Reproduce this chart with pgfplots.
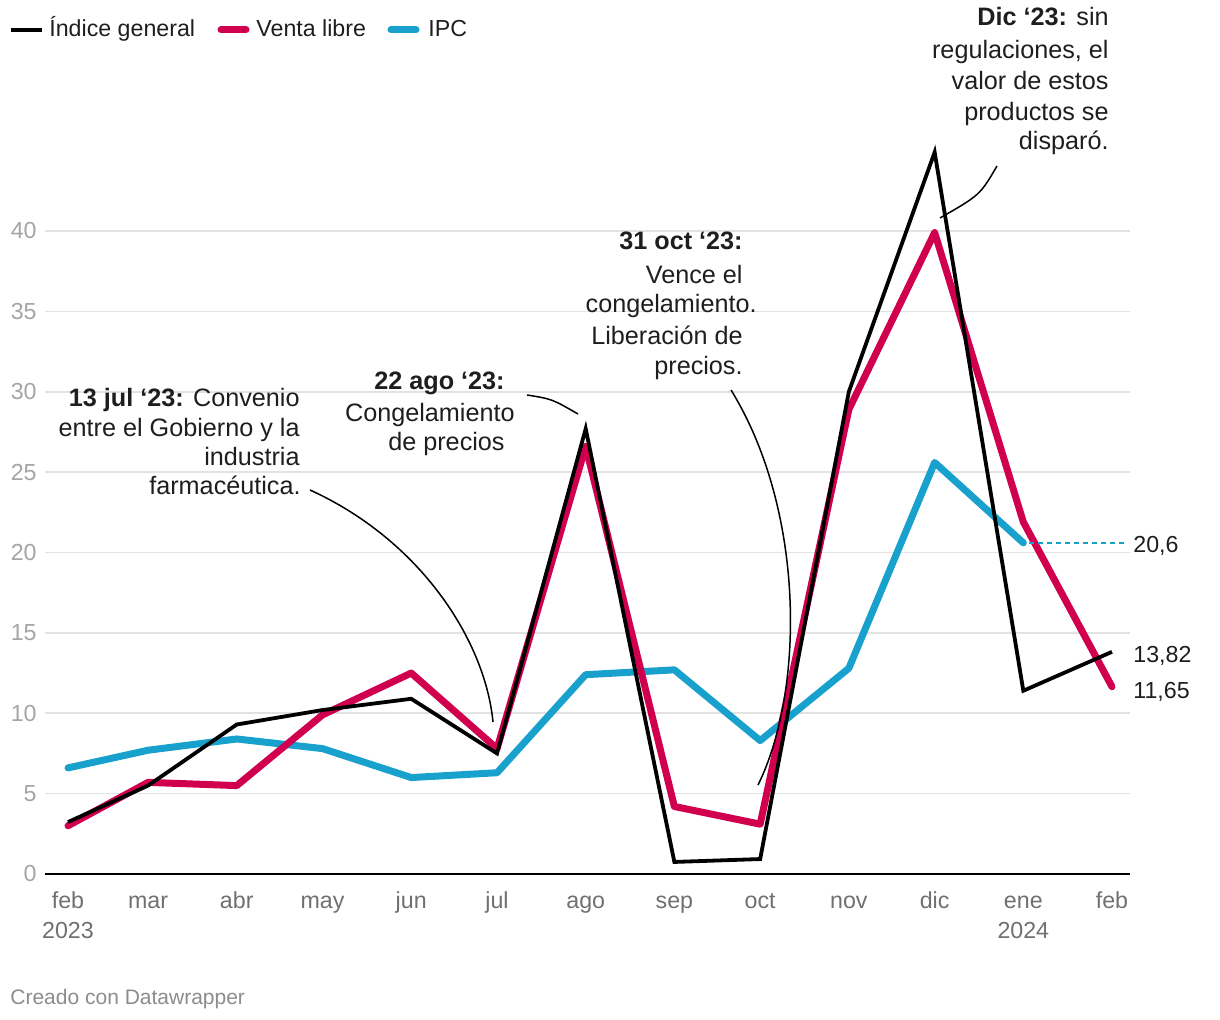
\documentclass[border=0pt]{standalone}
\usepackage{fontspec}
\setmainfont{Liberation Sans}
\usepackage{pgfplots}
\pgfplotsset{compat=1.18}
\definecolor{rojo}{RGB}{208,0,79}
\definecolor{azul}{RGB}{24,161,205}
\definecolor{gridc}{RGB}{226,226,226}
\definecolor{ylab}{RGB}{165,165,165}
\definecolor{xlab}{RGB}{112,112,112}
\definecolor{txt}{RGB}{30,30,30}
\definecolor{foot}{RGB}{140,140,140}
\newcommand{\tfont}{\fontsize{11.6}{15}\selectfont}
\newcommand{\afont}{\fontsize{12.6}{15.5}\selectfont}
\begin{document}
\begin{tikzpicture}
\useasboundingbox (0pt,0pt) rectangle (610pt,-510pt);
\begin{axis}[at={(22.5pt,-437pt)}, anchor=south west, scale only axis,
  width=542.5pt, height=321.5pt,
  xmin=-8.04, xmax=371.3, ymin=0, ymax=40, clip=false,
  axis line style={draw=none}, major tick length=0pt,
  ymajorgrids, grid style={gridc, line width=0.8pt},
  ytick={0,5,...,40},
  xtick={0,28,59,89,120,150,181,212,242,273,303,334,365},
  xticklabels={{\strut feb\\2023},{\strut mar},{\strut abr},{\strut may},{\strut jun},{\strut jul},{\strut ago},{\strut sep},{\strut oct},{\strut nov},{\strut dic},{\strut ene\\2024},{\strut feb}},
  xticklabel style={align=center, anchor=north, inner sep=0pt, yshift=-6.5pt, font=\tfont, text=xlab},
  yticklabel style={anchor=east, inner sep=0pt, xshift=-4pt, font=\tfont, text=ylab},
  /pgf/number format/assume math mode=true,
]
\addplot[azul, line width=3.5pt, line join=round, line cap=round] coordinates {
(0,6.6)(28,7.7)(59,8.4)(89,7.8)(120,6.0)(150,6.3)(181,12.4)(212,12.7)(242,8.3)(273,12.8)(303,25.6)(334,20.6)};
\addplot[rojo, line width=3.5pt, line join=round, line cap=round] coordinates {
(0,3.0)(28,5.7)(59,5.5)(89,9.9)(120,12.5)(150,7.8)(181,26.6)(212,4.2)(242,3.1)(273,28.9)(303,39.9)(334,21.9)(365,11.65)};
\addplot[black, line width=1.9pt, line join=miter] coordinates {
(0,3.23)(28,5.5)(59,9.3)(89,10.2)(120,10.9)(150,7.5)(181,27.7)(212,0.75)(242,0.93)(273,30.0)(303,44.9)(334,11.4)(365,13.82)};
\draw[black, line width=1.3pt] (axis cs:-8.04,0) -- (axis cs:371.3,0);
\draw[azul, line width=0.8pt, dash pattern=on 2.5pt off 2pt] (axis cs:336,20.6) -- (axis cs:369.5,20.6);
\end{axis}
\begin{scope}[x=0.5pt,y=-0.5pt]
% legend
\draw[black, line width=1.6pt] (11,30) -- (42,30);
\node[anchor=base west, inner sep=0pt, font=\tfont, text=txt] at (49,37) {Índice general};
\draw[rojo, line width=3.5pt, line cap=round] (221,30) -- (246,30);
\node[anchor=base west, inner sep=0pt, font=\tfont, text=txt] at (256,37) {Venta libre};
\draw[azul, line width=3.5pt, line cap=round] (391,30) -- (416,30);
\node[anchor=base west, inner sep=0pt, font=\tfont, text=txt] at (428,37) {IPC};
% end labels
\node[anchor=base west, inner sep=0pt, font=\tfont, text=txt] at (1133,553) {20,6};
\node[anchor=base west, inner sep=0pt, font=\tfont, text=txt] at (1133,662) {13,82};
\node[anchor=base west, inner sep=0pt, font=\tfont, text=txt] at (1133,698) {11,65};
% annotations
\begin{scope}[every node/.style={anchor=base east, inner sep=0pt, font=\afont, text=txt}]
\node at (300,407) {\textbf{13 jul ‘23:} Convenio};
\node at (300,437) {entre el Gobierno y la};
\node at (300,466) {industria};
\node at (301,495) {farmacéutica.};
\node at (505,390) {\textbf{22 ago ‘23:}};
\node at (515,422) {Congelamiento};
\node at (505,451) {de precios};
\node at (743,250) {\textbf{31 oct ‘23:}};
\node at (743,284) {Vence el};
\node at (757,313) {congelamiento.};
\node at (743,345) {Liberación de};
\node at (743,375) {precios.};
\node at (1109,26) {\textbf{Dic ‘23:} sin};
\node at (1109,59) {regulaciones, el};
\node at (1109,90) {valor de estos};
\node at (1109,121) {productos se};
\node at (1109,150) {disparó.};
\end{scope}
\begin{scope}[line width=0.75pt, black]
\draw (310,490) .. controls (420,540) and (485,640) .. (493,722);
\draw (527,395) .. controls (552,399) .. (578,414);
\draw (731,390) .. controls (805,510) and (805,690) .. (758,785);
\draw (997,166) .. controls (980,195) .. (940,218);
\end{scope}
\node[anchor=base west, inner sep=0pt, font=\fontsize{10.5}{12}\selectfont, text=foot] at (10,1004) {Creado con Datawrapper};
\end{scope}
\end{tikzpicture}
\end{document}
